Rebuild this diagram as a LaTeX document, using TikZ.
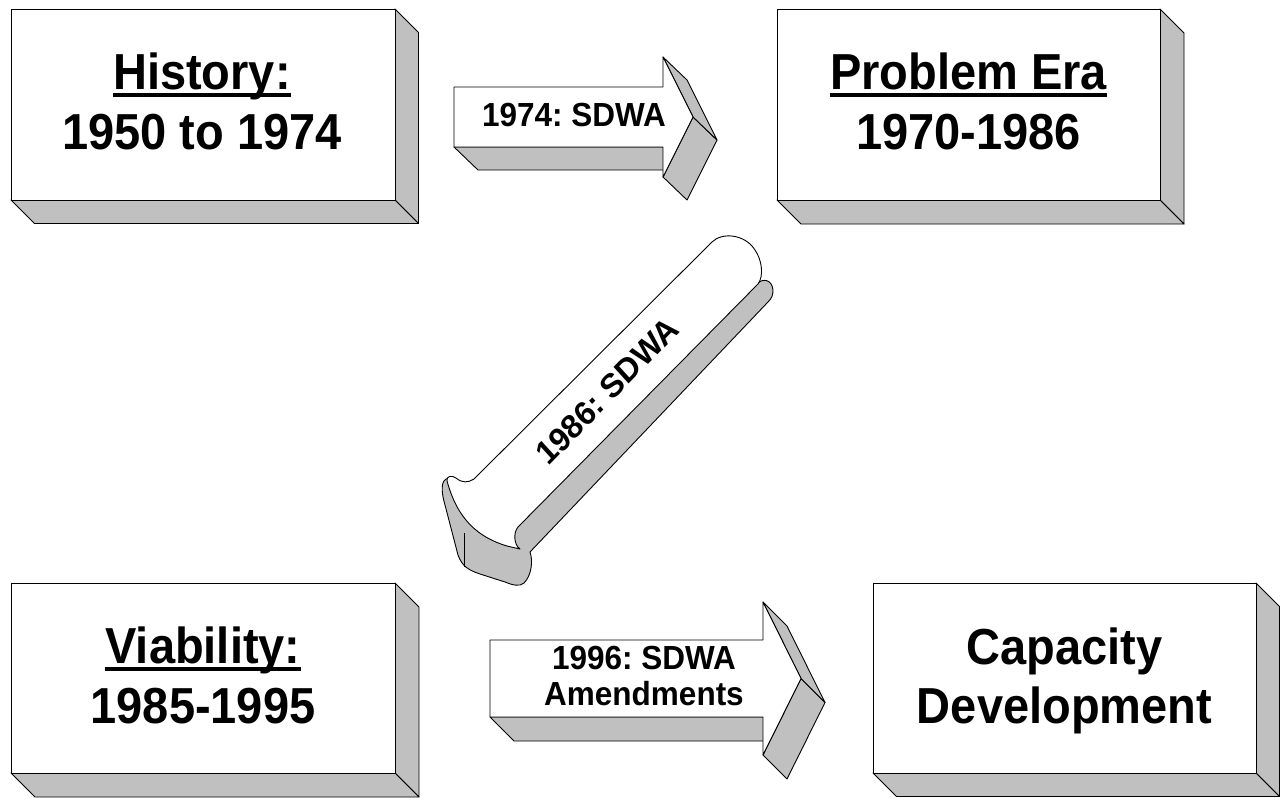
\documentclass[tikz,border=0pt]{standalone}
\usepackage{fontspec}
\setmainfont{Liberation Sans}
\frenchspacing
\definecolor{sgray}{HTML}{C0C0C0}
\newcommand\ulx[1]{\setbox0\hbox{#1}\rlap{\rule[-0.145em]{\wd0}{0.09em}}\box0}
\begin{document}
\begin{tikzpicture}[x=1bp,y=-1bp,
  face/.style={fill=white,draw=black,line width=0.9bp,line join=round},
  side/.style={fill=sgray,draw=black,line width=0.9bp,line join=round},
  boxtext/.style={font=\fontsize{47bp}{55bp}\selectfont\bfseries,align=center,inner sep=0pt,yscale=1.077},
  arrowtext/.style={font=\fontsize{31.5bp}{34bp}\selectfont\bfseries,align=center,inner sep=0pt,yscale=1.06}]
\useasboundingbox (0,0) rectangle (1283,798);

% Box 1: History
\draw[side] (395,9) -- (418.5,32.5) -- (418.5,223.5) -- (395,200) -- cycle;
\draw[side] (11,200) -- (395,200) -- (418.5,223.5) -- (34.5,223.5) -- cycle;
\draw[face] (11,9) rectangle (395,200);
\node[boxtext] (hist) at (202,106.5) {\ulx{History:}\\1950 to 1974\vphantom{p}};

% Box 2: Problem Era
\draw[side] (1160,9) -- (1184,33) -- (1184,224) -- (1160,200) -- cycle;
\draw[side] (777,200) -- (1160,200) -- (1184,224) -- (801,224) -- cycle;
\draw[face] (777,9) rectangle (1160,200);
\node[boxtext] (prob) at (968.5,106.5) {\ulx{Problem Era}\\1970-1986\vphantom{p}};

% Box 3: Viability
\draw[side] (395,583) -- (419,607) -- (419,797) -- (395,773) -- cycle;
\draw[side] (11,773) -- (395,773) -- (419,797) -- (35,797) -- cycle;
\draw[face] (11,583) rectangle (395,773);
\node[boxtext] (viab) at (203,680.5) {\ulx{Viability:}\\1985-1995\vphantom{p}};

% Box 4: Capacity Development
\draw[side] (1256,583) -- (1279.5,606.5) -- (1279.5,796.5) -- (1256,773) -- cycle;
\draw[side] (873,773) -- (1256,773) -- (1279.5,796.5) -- (896.5,796.5) -- cycle;
\draw[face] (873,583) rectangle (1256,773);
\node[boxtext] (capa) at (1064.5,681) {Capacity\\Development\vphantom{p}};

% Arrow 1: 1974
\draw[side] (454,147) -- (663,147) -- (687,170) -- (478,170) -- cycle;
\draw[side] (693,117) -- (717,140) -- (687,200) -- (663,177) -- cycle;
\draw[side] (663,57) -- (687,80) -- (717,140) -- (693,117) -- cycle;
\draw[face] (454,87) -- (663,87) -- (663,57) -- (693,117) -- (663,177) -- (663,147) -- (454,147) -- cycle;
\node[arrowtext] (a1) at (574,115.4) {1974: SDWA};

% Arrow 2: 1996
\draw[side] (490,717) -- (763,717) -- (787,741) -- (514,741) -- cycle;
\draw[side] (801,678.5) -- (825,702.5) -- (787,779) -- (763,755) -- cycle;
\draw[side] (763,602) -- (787,626) -- (825,702.5) -- (801,678.5) -- cycle;
\draw[face] (490,640) -- (763,640) -- (763,602) -- (801,678.5) -- (763,755) -- (763,717) -- (490,717) -- cycle;
\node[arrowtext] (a2) at (644,679.5) {1996: SDWA\\Amendments\vphantom{p}};

% Curved arrow: 1986
\draw[side] (757,284) .. controls (762,278) and (772,279) .. (773,290)
  .. controls (773,295) and (772,298) .. (768,302) -- (530,552)
  .. controls (533,560) and (532,575) .. (524,583)
  .. controls (520,587) and (512,585) .. (505,582) -- (480,574)
  .. controls (468,570) and (462,566) .. (458,555) -- (445,505)
  .. controls (442,495) and (441,485) .. (444,481)
  .. controls (446,478) and (449,478) .. (450,480) -- (470,510) -- (740,280) -- cycle;
\draw[face] (712,242) .. controls (722,232) and (745,234) .. (755,250)
  .. controls (762,260) and (764,276) .. (758,284) -- (518,527)
  .. controls (513,533) and (514,545) .. (520,549) -- (507,546)
  .. controls (470,535) and (455,510) .. (447,481)
  .. controls (446,476) and (452,475) .. (456,478)
  .. controls (462,483) and (468,483) .. (474,479) -- cycle;
\draw[line width=0.9bp] (464,533) -- (464,567);
\node[arrowtext,rotate=44] (a3) at (607,391) {1986: SDWA};
\end{tikzpicture}
\end{document}
